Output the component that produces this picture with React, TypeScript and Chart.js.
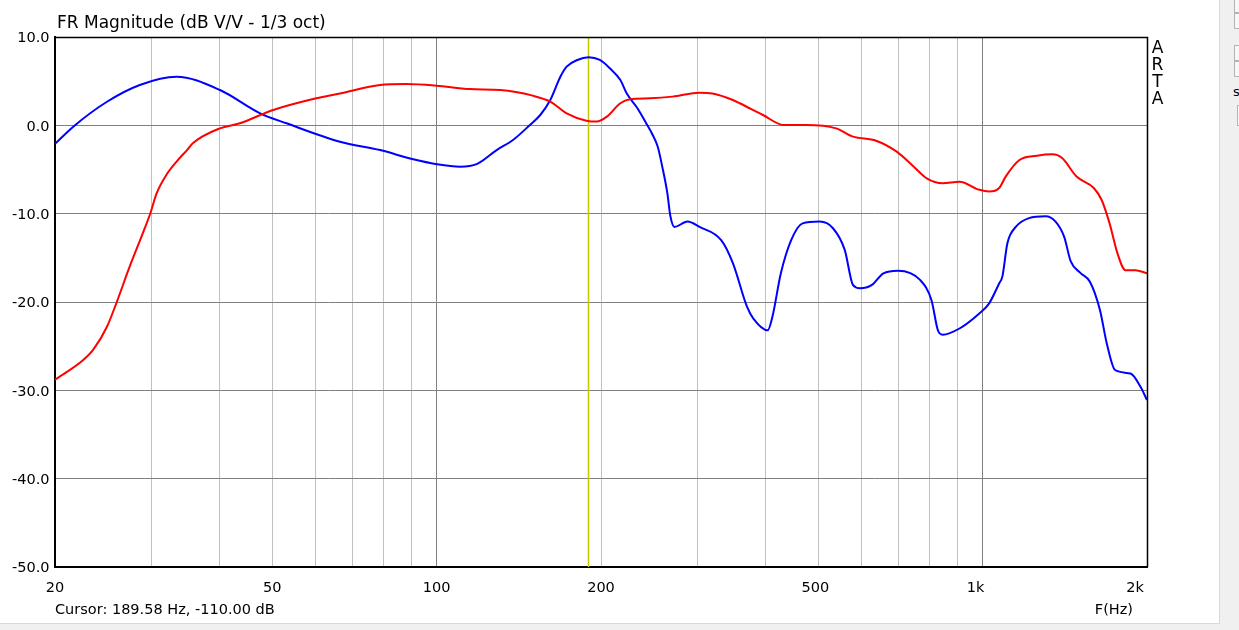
import React, { useEffect, useRef } from "react";
import { Chart, registerables } from "chart.js";

Chart.register(...registerables);

// ---- data ----
const blueFreq = [20, 21.6, 24.9, 28.6, 33.4, 40.1, 47.5, 53.1, 66.5, 78.8, 90.6, 100, 110.4, 118.4, 128.8, 138, 148.2, 154.8, 161.5, 168.5, 173, 181, 189.8, 199, 207.6, 217, 223, 233.4, 242, 247.8, 254, 259, 264.6, 268, 272.6, 288, 303, 332, 348.8, 370, 380, 404, 412, 427, 446, 468, 503, 532, 559, 579, 596, 626, 658, 700, 768, 806, 828, 845, 907, 986, 1028, 1072, 1087, 1110, 1150, 1216, 1304, 1360, 1410, 1450, 1510, 1572, 1640, 1688, 1748, 1866, 1946, 2000];
const blueDb = [-2.1, -0.15, 2.67, 4.57, 5.5, 4.0, 1.36, 0.23, -1.85, -2.8, -3.85, -4.4, -4.68, -4.4, -2.8, -1.66, 0.04, 1.17, 2.87, 5.5, 6.64, 7.4, 7.7, 7.4, 6.46, 5.13, 3.6, 1.9, 0.23, -0.9, -2.4, -4.7, -7.7, -10.3, -11.5, -10.9, -11.5, -13.0, -15.6, -20.5, -21.85, -23.2, -21.7, -16.75, -13.0, -11.1, -10.9, -11.65, -14.1, -18.1, -18.45, -18.1, -16.75, -16.45, -17.5, -19.8, -23.2, -23.7, -23.0, -21.3, -20.15, -17.9, -17.1, -13.35, -11.5, -10.5, -10.3, -10.9, -12.6, -15.4, -16.7, -17.7, -20.9, -24.7, -27.7, -28.1, -29.6, -31.1];

const redFreq = [20, 22.5, 23.5, 24.9, 25.9, 27.4, 28.8, 29.9, 30.7, 32.0, 33.4, 34.9, 35.8, 40.1, 43.6, 50.2, 60.2, 66.5, 78.8, 88, 100, 115, 130.8, 150, 161.5, 173, 188, 196.5, 205, 217, 226, 246, 270.5, 303, 320, 348.8, 359, 396, 432, 475, 539, 579, 638, 696, 748, 790, 845, 907, 986, 1028, 1072, 1102, 1168, 1258, 1342, 1398, 1486, 1598, 1652, 1708, 1766, 1826, 1904, 2000];
const redDb = [-28.8, -26.6, -25.4, -22.8, -20.15, -16.0, -12.6, -9.95, -7.7, -5.6, -4.1, -2.8, -2.0, -0.34, 0.23, 1.74, 3.06, 3.6, 4.57, 4.68, 4.49, 4.1, 4.0, 3.36, 2.68, 1.36, 0.53, 0.42, 0.98, 2.5, 2.95, 3.06, 3.25, 3.7, 3.6, 2.87, 2.5, 1.17, 0.04, 0.04, -0.34, -1.28, -1.74, -2.98, -4.68, -6.0, -6.56, -6.38, -7.3, -7.5, -7.1, -5.8, -3.93, -3.44, -3.28, -3.7, -5.8, -7.1, -8.45, -11.1, -14.5, -16.4, -16.4, -16.75];

const xGridValues = [20, 30, 40, 50, 60, 70, 80, 90, 100, 200, 300, 400, 500, 600, 700, 800, 900, 1000, 2000];
const xTickValues = [20, 50, 100, 200, 500, 1000, 2000];
const xTickLabels = ["20", "50", "100", "200", "500", "1k", "2k"];
const yTickValues = [10, 0, -10, -20, -30, -40, -50];
const yTickLabels = ["10.0", "0.0", "-10.0", "-20.0", "-30.0", "-40.0", "-50.0"];
const cursorFreq = 189.58;
const titleText = "FR Magnitude (dB V/V - 1/3 oct)";
const cursorText = "Cursor: 189.58 Hz, -110.00 dB";
const xAxisTitle = "F(Hz)";
const brandText = "ARTA";

// ---- styles ----
const FONT = '"DejaVu Sans", sans-serif';
const X_LABEL_NUDGE: Record<string, number> = { "500": -3, "1k": -7, "2k": -12 };

const artaPlugin = {
  id: "artaDecor",
  beforeDatasetsDraw(chart: any) {
    const { ctx, chartArea, scales } = chart;
    const cx = Math.round(scales.x.getPixelForValue(cursorFreq)) + 0.5;
    ctx.save();
    ctx.strokeStyle = "#c8c800";
    ctx.lineWidth = 1.5;
    ctx.beginPath();
    ctx.moveTo(cx, chartArea.top);
    ctx.lineTo(cx, chartArea.bottom);
    ctx.stroke();
    ctx.restore();
  },
  afterDraw(chart: any) {
    const { ctx, chartArea, scales } = chart;
    const { left, right, top, bottom } = chartArea;
    ctx.save();
    // frame
    ctx.strokeStyle = "#000";
    ctx.lineWidth = 1.5;
    ctx.beginPath();
    ctx.moveTo(left, top + 0.5);
    ctx.lineTo(right + 0.5, top + 0.5);
    ctx.lineTo(right + 0.5, bottom);
    ctx.stroke();

    ctx.fillStyle = "#000";
    // title
    ctx.font = `17px ${FONT}`;
    ctx.textAlign = "left";
    ctx.textBaseline = "alphabetic";
    ctx.fillText(titleText, 57, 28);

    // y labels
    ctx.font = `14.5px ${FONT}`;
    ctx.textAlign = "right";
    yTickValues.forEach((v, i) => {
      const y = scales.y.getPixelForValue(v);
      ctx.fillText(yTickLabels[i], 49.5, y + 5.3);
    });

    // x labels
    ctx.textAlign = "center";
    xTickValues.forEach((v, i) => {
      const x = scales.x.getPixelForValue(v);
      const lab = xTickLabels[i];
      ctx.fillText(lab, x + (X_LABEL_NUDGE[lab] || 0), 591.5);
    });

    // cursor readout
    ctx.textAlign = "left";
    ctx.fillText(cursorText, 55, 614);

    // axis title
    ctx.textAlign = "right";
    ctx.fillText(xAxisTitle, 1133, 614);

    // ARTA vertical brand
    ctx.font = `17px ${FONT}`;
    ctx.textAlign = "center";
    brandText.split("").forEach((ch, i) => {
      ctx.fillText(ch, 1157.5, 52.5 + i * 17);
    });
    ctx.restore();
  },
};

function ArtaChart() {
  const ref = useRef<HTMLCanvasElement | null>(null);
  useEffect(() => {
    if (!ref.current) return;
    const chart = new Chart(ref.current, {
      type: "line",
      data: {
        datasets: [
          {
            label: "red",
            data: redFreq.map((f, i) => ({ x: f, y: redDb[i] })),
            borderColor: "#ff0000",
            borderWidth: 2,
            pointRadius: 0,
            fill: false,
            cubicInterpolationMode: "monotone",
          },
          {
            label: "blue",
            data: blueFreq.map((f, i) => ({ x: f, y: blueDb[i] })),
            borderColor: "#0000ff",
            borderWidth: 2,
            pointRadius: 0,
            fill: false,
            cubicInterpolationMode: "monotone",
          },
        ],
      },
      options: {
        animation: false,
        responsive: false,
        devicePixelRatio: 1,
        events: [],
        layout: { padding: { top: 37, right: 92, left: 0, bottom: 0 } },
        plugins: { legend: { display: false }, tooltip: { enabled: false }, title: { display: false } },
        scales: {
          x: {
            type: "logarithmic",
            min: 20,
            max: 2000,
            afterBuildTicks: (scale: any) => {
              scale.ticks = xGridValues.map((v) => ({ value: v }));
            },
            afterFit: (scale: any) => {
              scale.height = 63;
            },
            ticks: { display: false },
            grid: {
              drawTicks: false,
              color: (c: any) =>
                c.tick && (c.tick.value === 100 || c.tick.value === 1000) ? "#808080" : "#c0c0c0",
              lineWidth: 1,
            },
            border: { display: true, color: "#000", width: 2 },
          },
          y: {
            type: "linear",
            min: -50,
            max: 10,
            afterBuildTicks: (scale: any) => {
              scale.ticks = yTickValues.map((v) => ({ value: v }));
            },
            afterFit: (scale: any) => {
              scale.width = 55;
            },
            ticks: { display: false },
            grid: { drawTicks: false, color: "#808080", lineWidth: 1 },
            border: { display: true, color: "#000", width: 2 },
          },
        },
      },
      plugins: [artaPlugin],
    } as any);
    return () => chart.destroy();
  }, []);
  return (
    <canvas
      ref={ref}
      width={1239}
      height={630}
      style={{ position: "absolute", left: 0, top: 0, width: 1239, height: 630, display: "block" }}
    />
  );
}

const boxStyle = (top: number, height: number, left: number): React.CSSProperties => ({
  position: "absolute",
  left,
  top,
  width: 20,
  height,
  border: "1px solid #b4b4b4",
  background: "#f7f7f7",
  boxSizing: "border-box",
});

export default function App() {
  return (
    <div
      style={{
        position: "fixed",
        left: 0,
        top: 0,
        width: 1239,
        height: 630,
        background: "#f0f0f0",
        overflow: "hidden",
      }}
    >
      <div
        style={{
          position: "absolute",
          left: 0,
          top: 0,
          width: 1220,
          height: 624,
          background: "#ffffff",
          borderRight: "1px solid #d8d8d8",
          borderBottom: "1px solid #d8d8d8",
          boxSizing: "border-box",
        }}
      />
      <div style={boxStyle(-2, 15, 1234)} />
      <div style={boxStyle(13, 16, 1234)} />
      <div style={boxStyle(45, 16, 1234)} />
      <div style={boxStyle(61, 16, 1234)} />
      <div
        style={{
          position: "absolute",
          left: 1233,
          top: 84,
          fontFamily: FONT,
          fontSize: 13,
          color: "#000",
        }}
      >
        s
      </div>
      <div style={boxStyle(105, 21, 1237)} />
      <ArtaChart />
    </div>
  );
}
